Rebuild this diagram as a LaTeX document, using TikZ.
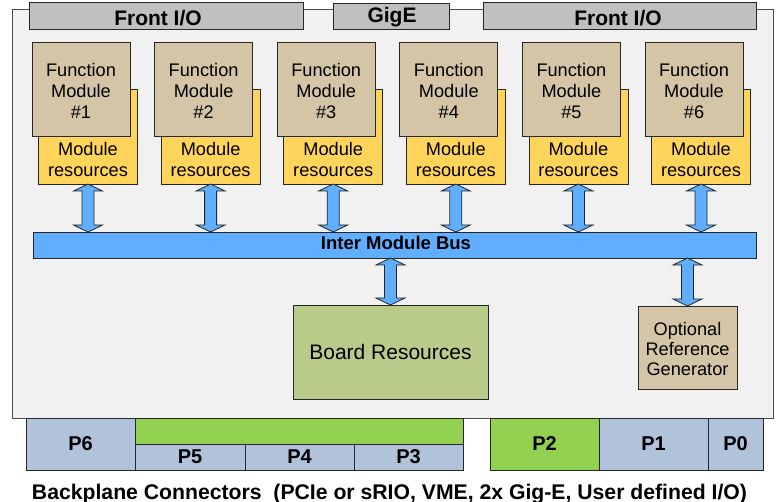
\documentclass[tikz,border=0pt]{standalone}
\usepackage{fontspec}
\setmainfont{Liberation Sans}
\usetikzlibrary{calc}
\definecolor{boardbg}{HTML}{F1F1F1}
\definecolor{iogray}{HTML}{C0C0C0}
\definecolor{fmtan}{HTML}{D3C5A5}
\definecolor{resyel}{HTML}{FFD45A}
\definecolor{busblue}{HTML}{5FAEFF}
\definecolor{brgreen}{HTML}{B8CB88}
\definecolor{conblue}{HTML}{B0C3DA}
\definecolor{congreen}{HTML}{92D050}
\newcommand{\dblarr}[2]{%
  \path[arrowst] let \p1=#1, \p2=#2 in
  (\x1,\y1) -- (\x1+14.5pt,\y1-7pt) -- (\x1+6pt,\y1-7pt) -- (\x1+6pt,\y2+7pt)
  -- (\x1+14.5pt,\y2+7pt) -- (\x1,\y2) -- (\x1-14.5pt,\y2+7pt) -- (\x1-6pt,\y2+7pt)
  -- (\x1-6pt,\y1-7pt) -- (\x1-14.5pt,\y1-7pt) -- cycle;}
\begin{document}
\begin{tikzpicture}[x=1pt,y=-1pt,
  box/.style={draw=black!85, line width=0.8pt, inner sep=0pt, outer sep=0pt},
  lbl/.style={inner sep=0pt, outer sep=0pt, align=center},
  fmfont/.style={font=\fontsize{18.2}{21}\selectfont},
  arrowst/.style={draw=black!85, line width=0.8pt, fill=busblue, line join=miter}]
\useasboundingbox (0,0) rectangle (779,502);
% board
\node[box, draw=black!70, fill=boardbg, minimum width=761pt, minimum height=409pt] (board) at (392.5,213.5) {};
% front I/O
\node[box, fill=iogray, minimum width=274pt, minimum height=27pt] (fio1) at (166,15.5) {};
\node[box, fill=iogray, minimum width=116pt, minimum height=26pt] (gige) at (391,16) {};
\node[box, fill=iogray, minimum width=273pt, minimum height=27pt] (fio2) at (619.5,15.5) {};
\node[lbl, anchor=base, font=\bfseries\fontsize{21}{24}\selectfont] (fio1t) at (158,26) {Front I/O};
\node[lbl, anchor=base, font=\bfseries\fontsize{21}{24}\selectfont] (gigt) at (392,23) {GigE};
\node[lbl, anchor=base, font=\bfseries\fontsize{21}{24}\selectfont] (fio2t) at (618,26) {Front I/O};
% bus
\node[box, fill=busblue, minimum width=723pt, minimum height=26pt] (bus) at (394.5,245) {};
\node[lbl, anchor=base, font=\bfseries\fontsize{18.5}{21}\selectfont] (bust) at (396,250) {Inter Module Bus};
% function modules
\foreach \i in {1,...,6}{
  \pgfmathsetmacro{\fx}{32+122.6*(\i-1)}
  \node[box, fill=resyel, minimum width=99pt, minimum height=95pt] (r\i) at (\fx+6.5+49.5,136.5) {};
  \node[box, fill=fmtan, minimum width=98pt, minimum height=94pt] (f\i) at (\fx+49,89) {};
  \node[lbl, fmfont] (ft\i) at (\fx+49,91) {Function\\Module\\\#\i};
  \node[lbl, fmfont] (rt\i) at (\fx+56,159) {Module\\resources};
  \dblarr{(r\i.south)}{(bus.north -| r\i.south)}
}
% board resources
\node[box, fill=brgreen, minimum width=195pt, minimum height=94pt] (br) at (390.5,352) {};
\node[lbl, anchor=base, font=\fontsize{21}{24}\selectfont] (brt) at (390.5,360) {Board Resources};
\dblarr{(bus.south -| br.north)}{(br.north)}
% optional reference generator
\node[box, fill=fmtan, minimum width=99pt, minimum height=83pt] (orf) at (687.5,347.5) {};
\node[lbl, fmfont, font=\fontsize{18.2}{20}\selectfont] (orft) at (687.5,349) {Optional\\Reference\\Generator};
\dblarr{(bus.south -| orf.north)}{(orf.north)}
% connectors
\tikzset{plbl/.style={lbl, anchor=base, font=\bfseries\fontsize{20}{23}\selectfont}}
\node[box, fill=conblue, minimum width=109pt, minimum height=52pt] (p6) at (80.5,444) {};
\node[box, fill=congreen, minimum width=328pt, minimum height=26pt] (gbar) at (299,431) {};
\node[box, fill=conblue, minimum width=110pt, minimum height=26pt] (p5) at (190,457) {};
\node[box, fill=conblue, minimum width=109pt, minimum height=26pt] (p4) at (299.5,457) {};
\node[box, fill=conblue, minimum width=109pt, minimum height=26pt] (p3) at (408.5,457) {};
\node[box, fill=congreen, minimum width=109pt, minimum height=52pt] (p2) at (544.5,444) {};
\node[box, fill=conblue, minimum width=109pt, minimum height=52pt] (p1) at (653.5,444) {};
\node[box, fill=conblue, minimum width=55pt, minimum height=52pt] (p0) at (735.5,444) {};
\node[plbl] (p6t) at (80.5,450) {P6};
\node[plbl] (p5t) at (190,463) {P5};
\node[plbl] (p4t) at (299.5,463) {P4};
\node[plbl] (p3t) at (408.5,463) {P3};
\node[plbl] (p2t) at (544.5,450) {P2};
\node[plbl] (p1t) at (653.5,450) {P1};
\node[plbl] (p0t) at (735.5,450) {P0};
\node[lbl, anchor=base, font=\bfseries\fontsize{21.2}{24}\selectfont] (cap) at (389.5,499) {Backplane Connectors\ \ (PCIe or sRIO, VME, 2x Gig-E, User defined I/O)};
\end{tikzpicture}
\end{document}
